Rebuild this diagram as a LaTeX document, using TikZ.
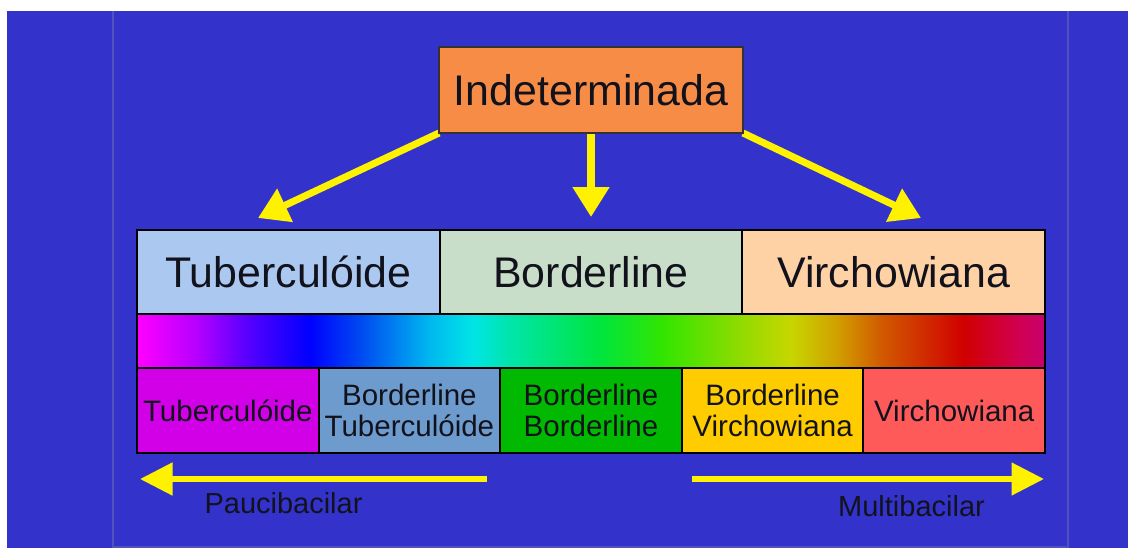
\documentclass[tikz,border=0pt]{standalone}
\usepackage{fontspec}
\setmainfont{Liberation Sans}
\usetikzlibrary{arrows.meta,backgrounds}

\definecolor{slide}{RGB}{51,51,204}
\definecolor{rule}{RGB}{82,82,188}
\definecolor{ink}{RGB}{18,18,28}
\definecolor{indorange}{RGB}{246,140,70}
\definecolor{tubtop}{RGB}{170,200,240}
\definecolor{bordtop}{RGB}{200,222,200}
\definecolor{virtop}{RGB}{255,210,165}
\definecolor{tubmag}{RGB}{210,0,230}
\definecolor{btsteel}{RGB}{110,155,205}
\definecolor{bbgreen}{RGB}{0,185,0}
\definecolor{bvgold}{RGB}{255,204,0}
\definecolor{vvred}{RGB}{255,90,90}

% spectrum for the bar between the two rows
\pgfdeclarehorizontalshading{spectrum}{100bp}{rgb(0bp)=(1,0,1); rgb(25bp)=(1,0,1);
  rgb(28.3bp)=(0.71,0,1); rgb(31bp)=(0.35,0,1); rgb(34.5bp)=(0,0,1);
  rgb(37.5bp)=(0,0.31,0.94); rgb(41bp)=(0,0.71,0.94); rgb(43.5bp)=(0,0.9,0.9);
  rgb(45.5bp)=(0,0.9,0.67); rgb(50.5bp)=(0,0.9,0.24); rgb(54bp)=(0.2,0.9,0);
  rgb(58bp)=(0.55,0.86,0); rgb(61bp)=(0.78,0.84,0); rgb(63.5bp)=(0.82,0.63,0);
  rgb(66bp)=(0.82,0.35,0); rgb(69bp)=(0.82,0.12,0); rgb(70.5bp)=(0.82,0,0);
  rgb(73.5bp)=(0.82,0,0.31); rgb(75bp)=(0.78,0,0.43); rgb(100bp)=(0.78,0,0.43)}

\begin{document}
\begin{tikzpicture}[x=0.02cm, y=0.02cm,
  every node/.style={inner sep=0pt, outer sep=0pt, text=ink},
  bigcell/.style={draw=black, line width=1.1pt, minimum width=6.053cm, minimum height=1.68cm,
    font=\fontsize{24.4}{28}\selectfont},
  smallcell/.style={draw=black, line width=1.1pt, minimum width=3.632cm, minimum height=1.70cm,
    align=center, font=\fontsize{16.8}{17.8}\selectfont},
  yarrow/.style={draw=yellow, line width=4pt, -{Triangle[length=17pt, width=20pt]}},
  flatarrow/.style={draw=yellow, line width=3.4pt, -{Triangle[length=18.5pt, width=18pt]}},
  caption/.style={font=\fontsize{16.5}{18}\selectfont}]
\useasboundingbox (0,0) rectangle (1128,548);

\node[fill=indorange, draw=black!80, line width=1.1pt, minimum width=6.08cm, minimum height=1.72cm,
  font=\fontsize{24.4}{28}\selectfont] (ind) at (591,458) {Indeterminada};

\node[bigcell, fill=tubtop] (tub) at (288.33,276) {Tuberculóide};
\node[bigcell, fill=bordtop] (bord) at (591,276) {Borderline};
\node[bigcell, fill=virtop] (virc) at (893.67,276) {Virchowiana};

\node[draw=black, line width=1.1pt, shading=spectrum, minimum width=18.16cm, minimum height=1.08cm] (bar) at (591,207) {};

\node[smallcell, fill=tubmag] (tt) at (227.8,137.5) {Tuberculóide};
\node[smallcell, fill=btsteel] (bt) at (409.4,137.5) {Borderline\\Tuberculóide};
\node[smallcell, fill=bbgreen] (bb) at (591,137.5) {Borderline\\Borderline};
\node[smallcell, fill=bvgold] (bv) at (772.6,137.5) {Borderline\\Virchowiana};
\node[smallcell, fill=vvred] (vv) at (954.2,137.5) {Virchowiana};

\node[caption] (pauci) at (283.5,45) {Paucibacilar};
\node[caption] (multi) at (911.5,42) {Multibacilar};

\coordinate (tipL) at (258,330);
\coordinate (tipM) at (591,331);
\coordinate (tipR) at (921,330);
\coordinate (pauciA) at (487,69);
\coordinate (pauciB) at (140,69);
\coordinate (multiA) at (692,69);
\coordinate (multiB) at (1044,69);

\begin{scope}[on background layer]
\fill[white] (0,0) rectangle (1128,548);
\fill[slide] (7,0) rectangle (1128,537);
\draw[rule, line width=1.4pt] (113,0) -- (113,537);
\draw[rule, line width=1.4pt] (1068,0) -- (1068,537);
\draw[rule, line width=0.8pt] (113,1) -- (1068,1);
\draw[yarrow] (ind.south west) -- (tipL);
\draw[yarrow] (ind.south) -- (tipM);
\draw[yarrow] (ind.south east) -- (tipR);
\end{scope}

\draw[flatarrow] (pauciA) -- (pauciB);
\draw[flatarrow] (multiA) -- (multiB);
\end{tikzpicture}
\end{document}
